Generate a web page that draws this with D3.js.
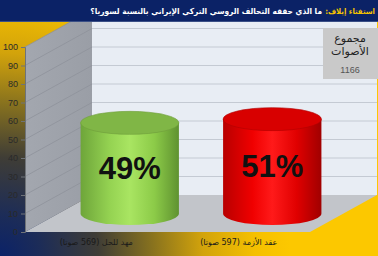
<!DOCTYPE html>
<html><head><meta charset="utf-8">
<script src="https://cdn.jsdelivr.net/npm/d3@7"></script>
<style>html,body{margin:0;padding:0;background:#fff}svg{display:block}</style>
</head><body>
<svg id="c" width="378" height="256"></svg>
<script>
const categories = ["مهد للحل (569 صوتا)", "عقد الأزمة (597 صوتا)"];
const values = [49, 51];
const labels = ["49%", "51%"];
const tickValues = [0,10,20,30,40,50,60,70,80,90,100];
const titleLead = "استفتاء إيلاف:";
const titleRest = "ما الذي حققه التحالف الروسي التركي الإيراني بالنسبة لسوريا؟";
const boxLines = ["مجموع", "الأصوات"];
const totalVotes = "1166";

const RLE = "\u202B", PDF = "\u202C";
const W = 378, H = 256;
const svg = d3.select("#c");
const defs = svg.append("defs");

// background radial gradient
const bg = defs.append("radialGradient").attr("id","bg").attr("gradientUnits","userSpaceOnUse")
  .attr("cx",0).attr("cy",256).attr("r",290);
[[0,"#0b2268"],[0.14,"#1c2c58"],[0.34,"#3f3d36"],[0.52,"#85701f"],[0.7,"#d2a30b"],[0.88,"#f5c000"],[1,"#fcc800"]]
  .forEach(([o,c])=>bg.append("stop").attr("offset",o).attr("stop-color",c));
svg.append("rect").attr("width",W).attr("height",H).attr("fill","url(#bg)");

const y = d3.scaleLinear().domain([0,100]).range([232,47]);
const x = d3.scaleBand().domain(categories).range([25,310]).paddingInner(0).paddingOuter(0);
const dx = 67, dy = -37;
const x0 = 25, x1 = 310;

// back wall
svg.append("rect").attr("x",x0+dx).attr("y",y(100)+dy).attr("width",x1-x0).attr("height",y(0)-y(100))
  .attr("fill","#e8edf4");
// left wall
const lw = defs.append("linearGradient").attr("id","lw").attr("x1",0).attr("x2",1);
lw.append("stop").attr("offset",0).attr("stop-color","#a3a7af");
lw.append("stop").attr("offset",1).attr("stop-color","#9a9ea6");
svg.append("path").attr("d",`M${x0},${y(0)}L${x0},${y(100)}L${x0+dx},${y(100)+dy}L${x0+dx},${y(0)+dy}Z`)
  .attr("fill","url(#lw)");
// floor
svg.append("path").attr("d",`M${x0},${y(0)}L${x0+dx},${y(0)+dy}L${x1+dx},${y(0)+dy}L${x1},${y(0)}Z`)
  .attr("fill","#c2c5ca");
// gridlines
tickValues.forEach(t=>{
  if(t===0) return;
  svg.append("line").attr("x1",x0+dx).attr("x2",x1+dx).attr("y1",y(t)+dy).attr("y2",y(t)+dy)
    .attr("stroke","#c4cad3").attr("stroke-width",1);
  svg.append("line").attr("x1",x0).attr("x2",x0+dx).attr("y1",y(t)).attr("y2",y(t)+dy)
    .attr("stroke","#8e929a").attr("stroke-width",0.8);
});

// axis
const ax = svg.append("g").attr("transform",`translate(${x0},0)`)
  .call(d3.axisLeft(y).tickValues(tickValues).tickSize(4).tickPadding(3));
ax.select(".domain").attr("stroke","#6f7378");
ax.selectAll(".tick line").attr("stroke","#6f7378");
ax.selectAll("text").attr("fill","#2a2a2a").style("font-family","Liberation Sans, Arial, sans-serif").style("font-size","9px");

// cylinders
const grads = [
  ["gG",["#6ea53a","#95d352","#a9e562","#8ccb48","#5f9230"]],
  ["gR",["#b80000","#f00000","#ff1a1a","#e00000","#a00000"]]
];
grads.forEach(([id,cs])=>{
  const g = defs.append("linearGradient").attr("id",id);
  [0,0.3,0.5,0.75,1].forEach((o,i)=>g.append("stop").attr("offset",o).attr("stop-color",cs[i]));
});
const topCols = ["#80b646","#d80000"];
const bw = x.bandwidth()*0.69, ry = 11.5;
values.forEach((v,i)=>{
  const cx = x(categories[i]) + x.bandwidth()/2 + dx/2;
  const yb = y(0) + dy/2, yt = y(v) + dy/2;
  const rx = bw/2;
  svg.append("path").attr("d",
    `M${cx-rx},${yt}L${cx-rx},${yb}A${rx},${ry} 0 0 0 ${cx+rx},${yb}L${cx+rx},${yt}Z`)
    .attr("fill",`url(#${grads[i][0]})`);
  svg.append("ellipse").attr("cx",cx).attr("cy",yt).attr("rx",rx).attr("ry",ry)
    .attr("fill",topCols[i]).attr("stroke", i? "#b00000":"#6e9e3a").attr("stroke-width",0.6);
  svg.append("text").attr("x",cx).attr("y",(yt+yb)/2+11).attr("text-anchor","middle")
    .style("font-family","Liberation Sans, Arial, sans-serif").style("font-weight","bold").style("font-size","31px")
    .attr("fill","#111").text(labels[i]);
  svg.append("text").attr("x",x(categories[i])+x.bandwidth()/2).attr("y",245).attr("text-anchor","middle")
    .style("font-family","DejaVu Sans, sans-serif").style("font-size","8px").attr("fill","#1a1a1a")
    .text(RLE + categories[i] + PDF);
});

// total box
svg.append("rect").attr("x",323).attr("y",28).attr("width",55).attr("height",51).attr("fill","#c9c9c9");
boxLines.forEach((t,i)=>svg.append("text").attr("x",350).attr("y",42+i*13).attr("text-anchor","middle")
  .style("font-family","DejaVu Sans, sans-serif").style("font-size","11px").attr("fill","#222").text(t));
svg.append("text").attr("x",350).attr("y",73).attr("text-anchor","middle")
  .style("font-family","Liberation Sans, Arial, sans-serif").style("font-size","9px").attr("fill","#555").text(totalVotes);

// header
svg.append("rect").attr("width",W).attr("height",21).attr("fill","#0b2266");
svg.append("line").attr("x1",0).attr("x2",W).attr("y1",21.5).attr("y2",21.5).attr("stroke","#3a4f86").attr("stroke-width",1);
function fitText(xr, target, color, str){
  const t = svg.append("text").attr("x",xr).attr("y",14).attr("text-anchor","end")
    .style("font-family","DejaVu Sans Condensed, DejaVu Sans, sans-serif").style("font-weight","bold").style("font-size","9px")
    .attr("fill",color).text(RLE + str + PDF);
  const w = t.node().getComputedTextLength();
  if (w > 0) t.style("font-size", Math.min(9.5, 9*target/w) + "px");
  return t;
}
fitText(375, 50, "#f5c400", titleLead);
fitText(322, 232, "#ffffff", titleRest);
</script>
</body></html>
